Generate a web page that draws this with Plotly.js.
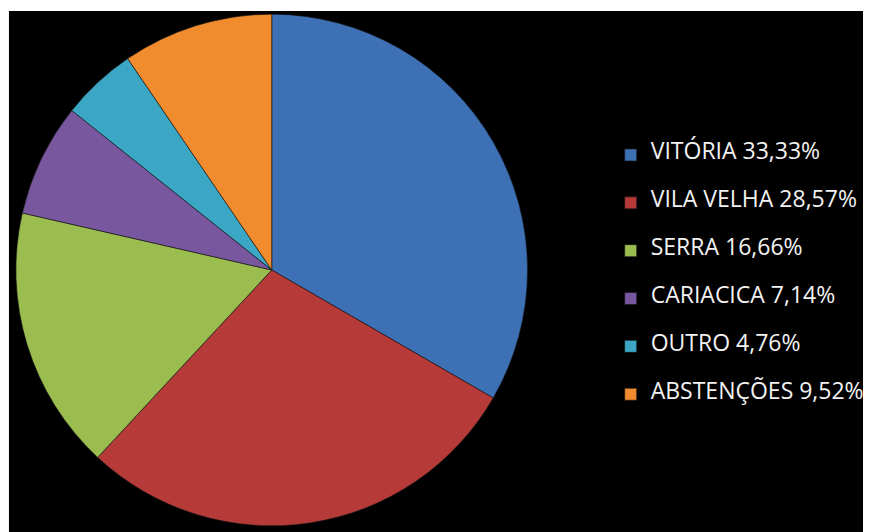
<!DOCTYPE html>
<html>
<head>
<meta charset="utf-8">
<script src="https://cdn.plot.ly/plotly-3.0.1.min.js"></script>
<style>
  html, body { margin: 0; padding: 0; background: #ffffff; }
  #plotArea { width: 869px; height: 532px; }
</style>
</head>
<body>
<div id="plotArea"></div>
<script>
// Data
var cities = ["VITÓRIA", "VILA VELHA", "SERRA", "CARIACICA", "OUTRO", "ABSTENÇÕES"];
var shares = [33.33, 28.57, 16.66, 7.14, 4.76, 9.52];
var sliceColors = ["#3d70b5", "#b53a38", "#9bbd4f", "#79579f", "#3ba7c5", "#f08c2d"];

// legend text like "VITÓRIA 33,33%" (blank lines above/below to space the rows)
var legendLabels = cities.map(function(city, i) {
    var pct = shares[i].toFixed(2).replace(".", ",") + "%";
    return "&nbsp;<br><span style='font-size:23px'>" + city + " " + pct + "</span><br>&nbsp;";
});

var pieTrace = {
    type: "pie",
    labels: legendLabels,
    values: shares,
    sort: false,
    direction: "clockwise",
    rotation: 0,
    textinfo: "none",
    hoverinfo: "label+percent",
    marker: {
        colors: sliceColors,
        line: {color: "rgba(20,20,20,0.6)", width: 1}
    },
    domain: {x: [16 / 869, 530 / 869], y: [5 / 532, 519 / 532]}
};

var pieLayout = {
    width: 869,
    height: 532,
    margin: {l: 0, r: 0, t: 0, b: 0},
    paper_bgcolor: "#ffffff",
    showlegend: true,
    legend: {
        x: 0.706,
        xanchor: "left",
        y: 0.483,
        yanchor: "middle",
        bgcolor: "rgba(0,0,0,0)",
        font: {family: "Open Sans, sans-serif", size: 11.5, color: "#f2f2f2"},
        tracegroupgap: 0
    },
    shapes: [{
        type: "rect",
        xref: "paper", yref: "paper",
        x0: 9 / 869, x1: 867 / 869, y0: 0, y1: 521 / 532,
        fillcolor: "#000000",
        line: {width: 0},
        layer: "below"
    }]
};

Plotly.newPlot("plotArea", [pieTrace], pieLayout, {displayModeBar: false});
</script>
</body>
</html>
